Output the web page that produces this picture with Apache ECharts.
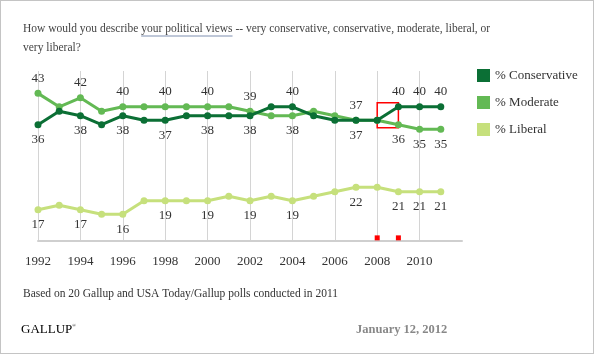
<!DOCTYPE html>
<html>
<head>
<meta charset="utf-8">
<script src="https://cdn.jsdelivr.net/npm/echarts@6/dist/echarts.min.js"></script>
<style>
    html, body { margin: 0; padding: 0; background: #fff; }
    #chart { width: 594px; height: 354px; box-sizing: border-box; border: 1px solid #c4c4c4; }
</style>
</head>
<body>
<div id="chart"></div>
<script>
// years on the axis (2012 only extends the axis, no data)
var years = ['1992', '1993', '1994', '1995', '1996', '1997', '1998', '1999', '2000', '2001',
             '2002', '2003', '2004', '2005', '2006', '2007', '2008', '2009', '2010', '2011', '2012'];
var conservative = [36, 39, 38, 36, 38, 37, 37, 38, 38, 38, 38, 40, 40, 38, 37, 37, 37, 40, 40, 40];
var moderate     = [43, 40, 42, 39, 40, 40, 40, 40, 40, 40, 39, 38, 38, 39, 38, 37, 37, 36, 35, 35];
var liberal      = [17, 18, 17, 16, 16, 19, 19, 19, 19, 20, 19, 20, 19, 20, 21, 22, 22, 21, 21, 21];
// years that carry a value label
var labelYears = ['1992', '1994', '1996', '1998', '2000', '2002', '2004', '2007', '2009', '2010', '2011'];

var serif = '"Liberation Serif", "DejaVu Serif", serif';
var colors = ['#0b6f35', '#63b954', '#c6e07c'];
var titleFont = '11.5px ' + serif;

var myChart = echarts.init(document.getElementById('chart'));

// measure title pieces so the underline sits under "your political views"
var ctx = document.createElement('canvas').getContext('2d');
ctx.font = titleFont;
var ulStart = 22 + ctx.measureText('How would you describe ').width;
var ulEnd = ulStart + ctx.measureText('your political views').width;

// label on top for the higher of the two close lines, below for the lower one
function withLabels(values, other) {
    return values.map(function (v, i) {
        var show = labelYears.indexOf(years[i]) >= 0;
        var pos = 'bottom';
        if (other && v >= other[i]) pos = 'top';
        return {
            value: v,
            label: { show: show, position: pos }
        };
    });
}

function everyOther(index) {
    return index % 2 === 0 && index < years.length - 1;
}

var lineLabel = {
    color: '#333',
    fontFamily: serif,
    fontSize: 13,
    distance: 5
};

var option = {
    animation: false,
    color: colors,
    graphic: [
        {
            type: 'text', left: 22, top: 18,
            style: {
                text: 'How would you describe your political views -- very conservative, conservative, moderate, liberal, or\nvery liberal?',
                font: titleFont, fill: '#444', lineHeight: 19
            }
        },
        {
            type: 'line',
            shape: { x1: ulStart, y1: 35, x2: ulEnd, y2: 35 },
            style: { stroke: '#7f8fb0', lineWidth: 1 }
        },
        {
            type: 'text', left: 22, top: 287,
            style: {
                text: 'Based on 20 Gallup and USA Today/Gallup polls conducted in 2011',
                font: '11.5px ' + serif, fill: '#333'
            }
        },
        {
            type: 'text', left: 20, top: 322,
            style: {
                text: '{a|GALLUP}{b|®}',
                rich: {
                    a: { font: '13px ' + serif, color: '#666' },
                    b: { font: '5px ' + serif, color: '#666', verticalAlign: 'top', padding: [0, 0, 8, 0] }
                }
            }
        },
        {
            type: 'text', left: 355, top: 322,
            style: {
                text: 'January 12, 2012',
                font: 'bold 12.5px ' + serif, fill: '#888'
            }
        }
    ],
    legend: {
        orient: 'vertical',
        left: 471,
        top: 63,
        icon: 'rect',
        itemWidth: 13,
        itemHeight: 13,
        itemGap: 14,
        textStyle: { color: '#333', fontFamily: serif, fontSize: 13 },
        data: ['% Conservative', '% Moderate', '% Liberal']
    },
    grid: {
        left: 37,
        right: 131,
        top: 70,
        bottom: 112
    },
    xAxis: {
        type: 'category',
        data: years,
        boundaryGap: false,
        axisLine: { lineStyle: { color: '#cfcfcf', width: 2 } },
        axisTick: { show: false },
        axisLabel: {
            interval: everyOther,
            margin: 14,
            color: '#333',
            fontFamily: serif,
            fontSize: 13
        },
        splitLine: {
            show: true,
            interval: everyOther,
            lineStyle: { color: '#d4d4d4', width: 1 }
        }
    },
    yAxis: {
        type: 'value',
        min: 10,
        max: 48,
        show: false,
        splitLine: { show: false }
    },
    series: [
        {
            name: '% Conservative',
            type: 'line',
            data: withLabels(conservative, moderate),
            symbol: 'circle',
            symbolSize: 7,
            lineStyle: { width: 3 },
            label: lineLabel,
            z: 3
        },
        {
            name: '% Moderate',
            type: 'line',
            data: withLabels(moderate, conservative.map(function (v) { return v + 0.5; })),
            symbol: 'circle',
            symbolSize: 7,
            lineStyle: { width: 3 },
            label: lineLabel,
            z: 2,
            markArea: {
                silent: true,
                itemStyle: { color: 'rgba(0,0,0,0)', borderColor: '#ff0000', borderWidth: 1.5 },
                data: [[{ coord: ['2008', 40.9] }, { coord: ['2009', 35.3] }]]
            }
        },
        {
            name: '% Liberal',
            type: 'line',
            data: withLabels(liberal, null),
            symbol: 'circle',
            symbolSize: 7,
            lineStyle: { width: 3 },
            label: lineLabel,
            z: 1,
            markPoint: {
                silent: true,
                symbol: 'rect',
                symbolSize: 5,
                itemStyle: { color: '#ff0000' },
                label: { show: false },
                data: [{ coord: ['2008', 10.7] }, { coord: ['2009', 10.7] }]
            }
        }
    ]
};

myChart.setOption(option);
</script>
</body>
</html>
